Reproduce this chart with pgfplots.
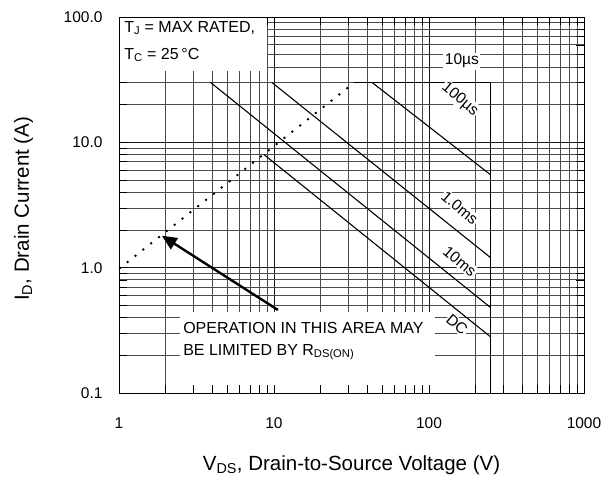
\documentclass[border=0pt]{standalone}
\usepackage{fontspec}
\setmainfont{Liberation Sans}
\usepackage{pgfplots}
\pgfplotsset{compat=1.18}
\usetikzlibrary{arrows.meta}

\begin{document}
\begin{tikzpicture}
\begin{axis}[
  scale only axis, width=465bp, height=376bp,
  xmode=log, ymode=log,
  xmin=1, xmax=1000, ymin=0.1, ymax=100,
  xtick={1,10,100,1000}, xticklabels={1,10,100,1000},
  ytick={0.1,1,10,100}, yticklabels={0.1,1.0,10.0,100.0},
  minor xtick={2,3,4,5,6,7,8,9,20,30,40,50,60,70,80,90,200,300,400,500,600,700,800,900},
  minor ytick={0.2,0.3,0.4,0.5,0.6,0.7,0.8,0.9,2,3,4,5,6,7,8,9,20,30,40,50,60,70,80,90},
  grid=both,
  major grid style={black!90, line width=0.7bp},
  minor grid style={black!70, line width=0.65bp},
  tick align=inside, major tick length=8bp, minor tick length=8bp,
  tick style={black, line width=0.6bp},
  axis line style={black, line width=0.8bp},
  ticklabel style={font=\fontsize{15.5bp}{19bp}\selectfont},
  xticklabel style={yshift=-21bp},
  yticklabel style={xshift=-13bp},
  label style={font=\fontsize{20.5bp}{24bp}\selectfont},
  xlabel={V\textsubscript{DS}, Drain-to-Source Voltage (V)},
  ylabel={I\textsubscript{D}, Drain Current (A)},
  xlabel style={at={(axis description cs:0.5,-0.193)}, anchor=center},
  ylabel style={at={(axis description cs:-0.205,0.49)}, anchor=center},
]
% white areas behind the notes
\fill[white] (axis cs:1,100) rectangle (axis cs:9.0,37);
\fill[white] (axis cs:2.47,0.445) rectangle (axis cs:109,0.116);

% limits
\addplot[black, line width=1.1bp] coordinates {(33,30) (250,30) (250,0.1)};
\addplot[black, line width=1.1bp] coordinates {(43,30) (250,5.5)};
\addplot[black, line width=1.1bp] coordinates {(9.7,30) (250,1.2)};
\addplot[black, line width=1.1bp] coordinates {(3.9,30) (250,0.48)};
\addplot[black, line width=1.1bp] coordinates {(8.6,8.0) (250,0.28)};
% RDS(on) limit
\addplot[black, line width=1.9bp, dash pattern=on 2bp off 8bp] coordinates {(1,0.98) (33,30)};

\draw[-{Triangle[length=15bp,width=13bp]}, line width=2.4bp] (axis cs:10.6,0.46) -- (axis cs:1.89,1.8);

\node[fill=white, inner sep=1.5bp, font=\fontsize{15.5bp}{18bp}\selectfont] at (axis cs:163,44.5) {10µs};
\node[fill=white, inner sep=1bp, rotate=-40, font=\fontsize{15.5bp}{18bp}\selectfont] at (axis cs:158,22) {100µs};
\node[fill=white, inner sep=1bp, rotate=-40, font=\fontsize{15.5bp}{18bp}\selectfont] at (axis cs:158,3.0) {1.0ms};
\node[fill=white, inner sep=1bp, rotate=-40, font=\fontsize{15.5bp}{18bp}\selectfont] at (axis cs:158,1.12) {10ms};
\node[fill=white, inner sep=1bp, rotate=-40, font=\fontsize{15.5bp}{18bp}\selectfont] at (axis cs:152,0.35) {DC};

\node[anchor=north west, align=left, inner sep=0pt, font=\fontsize{16bp}{27bp}\selectfont]
  at (axis cs:1.08,93) {T\textsubscript{J} = MAX RATED,\\T\textsubscript{C} = 25\,°C};
\node[anchor=north west, align=left, inner sep=0pt, font=\fontsize{16bp}{22bp}\selectfont]
  at (axis cs:2.59,0.37) {OPERATION IN THIS AREA MAY\\BE LIMITED BY R\textsubscript{DS(ON)}};

\draw[black, line width=0.8bp] (rel axis cs:0,0) rectangle (rel axis cs:1,1);
\coordinate (SW) at (rel axis cs:0,0);
\end{axis}
\pgfresetboundingbox
\path[use as bounding box] (SW) ++(-119bp,-95bp) rectangle ++(614bp,488bp);
\end{tikzpicture}
\end{document}
